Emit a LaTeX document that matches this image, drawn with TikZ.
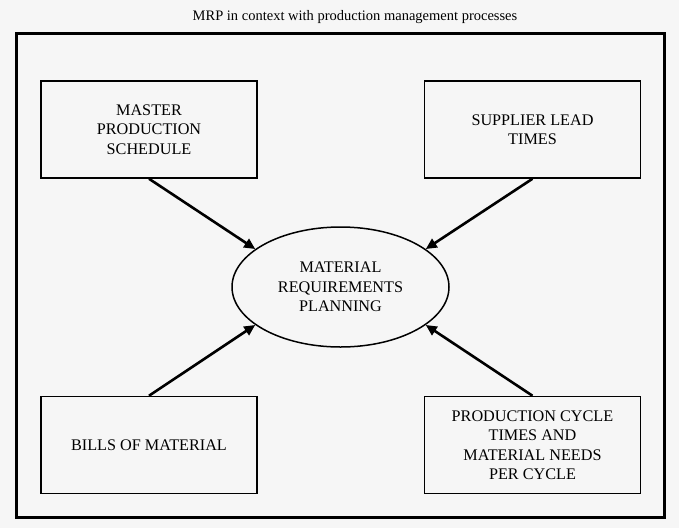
\documentclass[tikz,border=0pt]{standalone}
\usepackage{fontspec}
\setmainfont{Liberation Serif}
\usetikzlibrary{shapes.geometric,arrows.meta}
\definecolor{bg}{HTML}{F6F6F6}
\begin{document}
\begin{tikzpicture}[x=1pt,y=-1pt,
  procbox/.style={draw=black,line width=1.5pt,minimum width=216pt,minimum height=97pt,inner sep=2pt,align=center,
    font=\fontsize{16.2pt}{19.5pt}\selectfont},
  feed/.style={line width=2.6pt,-{Triangle[length=11pt,width=10pt]}}]
\fill[bg] (0,0) rectangle (679,528);
\useasboundingbox (0,0) rectangle (679,528);
\node[font=\fontsize{14.5pt}{17pt}\selectfont] (title) at (355,17) {MRP in context with production management processes};
\node[draw=black,line width=3pt,minimum width=648.5pt,minimum height=484pt,inner sep=0pt] (frame) at (340.25,275) {};
\node[procbox] (mps) at (149,129.5) {MASTER\\PRODUCTION\\SCHEDULE};
\node[procbox] (slt) at (532.5,129.5) {SUPPLIER LEAD\\TIMES};
\node[procbox] (bom) at (149,445) {BILLS OF MATERIAL};
\node[procbox] (pct) at (532.5,445) {PRODUCTION CYCLE\\TIMES AND\\MATERIAL NEEDS\\PER CYCLE};
\node[ellipse,draw=black,line width=1.5pt,minimum width=217pt,minimum height=120pt,inner sep=0pt,align=center,
  font=\fontsize{16.2pt}{19.5pt}\selectfont] (mrp) at (340.5,287) {MATERIAL\\REQUIREMENTS\\PLANNING};
\draw[feed] (mps.south) -- (mrp.156);
\draw[feed] (slt.south) -- (mrp.24);
\draw[feed] (bom.north) -- (mrp.204);
\draw[feed] (pct.north) -- (mrp.336);
\end{tikzpicture}
\end{document}
